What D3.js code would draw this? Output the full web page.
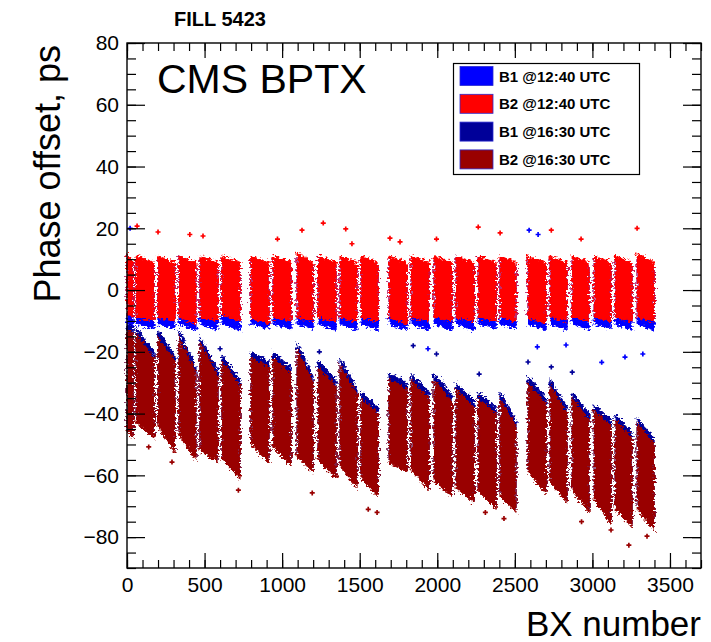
<!DOCTYPE html>
<html>
<head>
<meta charset="utf-8">
<script src="https://cdn.jsdelivr.net/npm/d3@7"></script>
<style>
  body { margin: 0; background: #fff; }
  text { font-family: "Liberation Sans", Arial, Helvetica, sans-serif; }
</style>
</head>
<body>
<div id="chart"></div>
<script>
// bunch trains (BX range of each train)
var trainStart = [0, 58, 199, 335, 470, 612, 799, 941, 1096, 1231, 1373, 1508,
  1689, 1831, 1979, 2121, 2263, 2404, 2585, 2727, 2869, 3011, 3146, 3288];
var trainEnd = [40, 175, 310, 445, 587, 729, 916, 1058, 1200, 1348, 1483, 1619,
  1806, 1948, 2096, 2238, 2380, 2508, 2702, 2837, 2979, 3121, 3256, 3398];

// B1 @12:40 - envelope of the points (ps)
var b1aTopStart = [11, 10, 10, 11, 10, 10, 10, 10, 11, 11, 10, 10, 10, 10, 10, 11, 11, 10, 10, 10, 10, 10, 10, 10];
var b1aTopEnd = [9, 8, 8, 8, 8, 8, 8, 8, 8, 8, 8, 8, 8, 8, 8, 8, 8, 8, 8, 8, 8, 8, 8, 8];
var b1aLowStart = [-12, -11, -11, -11, -11, -11, -11, -11, -11, -11, -11, -11, -11, -11, -11, -11, -11, -11, -11, -11, -11, -11, -11, -11];
var b1aLowEnd = [-13, -12.5, -12.5, -13, -13, -13, -12.5, -12.5, -12.5, -13, -13, -13, -13, -13, -13, -13, -12.5, -12.5, -13, -13, -13, -12.5, -13, -13];

// B2 @12:40
var b2aTopStart = [12, 11, 11, 11, 11, 11, 11, 11, 12, 11, 11, 11, 11, 11, 11, 11, 11, 11, 11, 11, 11, 11, 11, 12];
var b2aTopEnd = [9, 9, 9, 9, 9, 9, 9, 9, 9, 9, 9, 9, 9, 9, 9, 9, 9, 9, 9, 9, 9, 9, 9, 9];
var b2aLowStart = [-8, -9, -9, -9, -9, -8, -9, -9, -9, -9, -9, -9, -9, -9, -9, -9, -9, -9, -9, -9, -9, -9, -9, -9];
var b2aLowEnd = [-9, -10, -10, -11, -10, -10, -11, -10, -10, -10, -10, -10, -11, -10, -10, -10, -10, -10, -11, -10, -10, -10, -10, -10];

// B1 @16:30
var b1bTopStart = [-11, -12, -13, -13, -15, -21, -20, -20, -17, -23, -22, -33, -27, -27, -27, -30, -33, -33, -28, -29, -33, -37, -40, -41];
var b1bTopEnd = [-12, -20, -21, -25, -26, -29, -23, -25, -28, -29, -32, -38, -30, -33, -34, -36, -38, -42, -35, -38, -40, -42, -46, -48];
var b1bLowStart = [-45, -42, -43, -46, -51, -54, -49, -50, -53, -54, -56, -60, -55, -57, -61, -63, -64, -66, -58, -61, -64, -67, -70, -70];
var b1bLowEnd = [-47, -47, -52, -54, -55, -60, -55, -56, -58, -60, -63, -66, -58, -64, -66, -68, -70, -71, -65, -68, -71, -75, -76, -77];

// B2 @16:30
var b2bTopStart = [-13, -14, -15, -15, -17, -23, -22, -22, -19, -25, -24, -35, -29, -29, -29, -32, -35, -35, -30, -31, -35, -39, -42, -43];
var b2bTopEnd = [-14, -22, -23, -27, -28, -31, -25, -27, -30, -31, -34, -40, -32, -35, -36, -38, -40, -44, -37, -40, -42, -44, -48, -50];
var b2bLowStart = [-46, -43, -44, -47, -52, -55, -50, -51, -54, -55, -57, -61, -56, -58, -62, -64, -65, -67, -59, -62, -65, -68, -71, -71];
var b2bLowEnd = [-48, -48, -53, -55, -56, -61, -56, -57, -59, -61, -64, -67, -59, -65, -67, -69, -71, -72, -66, -69, -72, -76, -77, -78];

// single bunches lying away from their train
var b1aOutBx = [20, 2592, 2650, 1940, 2645, 2830, 3060, 3210, 3325];
var b1aOutPs = [20, 19.4, 18, -19, -18.4, -17.8, -23.4, -21.7, -20.7];
var b2aOutBx = [65, 200, 405, 490, 970, 1128, 1265, 1410, 1450, 1695, 1760, 1995, 2264, 2405, 2735, 2927, 3288];
var b2aOutPs = [20.7, 18.8, 18, 17.5, 16.5, 19.4, 21.7, 19.8, 15, 16.8, 15.6, 16.5, 20.4, 18.5, 19.4, 16.5, 20];
var b1bOutBx = [1845, 1995, 2585, 2735, 2870, 2270, 600, 1240];
var b1bOutPs = [-18, -20.7, -23.3, -24.9, -26.6, -27.2, -19, -20];
var b2bOutBx = [140, 290, 718, 1194, 1555, 1612, 2310, 2430, 2930, 3120, 3235, 3352];
var b2bOutPs = [-50.8, -55.7, -64.8, -65.7, -71, -72, -72, -74, -75, -77.7, -82.6, -79.7];

var seriesNames = ["B1 @12:40 UTC", "B2 @12:40 UTC", "B1 @16:30 UTC", "B2 @16:30 UTC"];
var seriesColors = ["#0000ff", "#ff0000", "#000099", "#990000"];

var xTickLabels = [0, 500, 1000, 1500, 2000, 2500, 3000, 3500];
var yTickLabels = [-80, -60, -40, -20, 0, 20, 40, 60, 80];

var series = [
  [b1aTopStart, b1aTopEnd, b1aLowStart, b1aLowEnd],
  [b2aTopStart, b2aTopEnd, b2aLowStart, b2aLowEnd],
  [b1bTopStart, b1bTopEnd, b1bLowStart, b1bLowEnd],
  [b2bTopStart, b2bTopEnd, b2bLowStart, b2bLowEnd]
];
var outliers = [
  [b1aOutBx, b1aOutPs],
  [b2aOutBx, b2aOutPs],
  [b1bOutBx, b1bOutPs],
  [b2bOutBx, b2bOutPs]
];

var width = 711;
var height = 642;
var frame = {left: 127, right: 701, top: 43, bottom: 568};

var svg = d3.select("#chart").append("svg")
  .attr("width", width)
  .attr("height", height);

// rough edges so the envelopes read like dense point clouds
var defs = svg.append("defs");
var filt = defs.append("filter")
  .attr("id", "rough")
  .attr("x", "-20%").attr("y", "-20%")
  .attr("width", "140%").attr("height", "140%");
filt.append("feTurbulence")
  .attr("type", "fractalNoise")
  .attr("baseFrequency", "0.35 0.5")
  .attr("numOctaves", 2)
  .attr("seed", 3)
  .attr("result", "noise");
filt.append("feDisplacementMap")
  .attr("in", "SourceGraphic")
  .attr("in2", "noise")
  .attr("scale", 8)
  .attr("xChannelSelector", "R")
  .attr("yChannelSelector", "G");

var x = d3.scaleLinear().domain([0, 3700]).range([frame.left, frame.right]);
var y = d3.scaleLinear().domain([-90, 80]).range([frame.bottom, frame.top]);

var plot = svg.append("g").attr("class", "plot");

var line = d3.line()
  .x(function(p) { return x(p[0]); })
  .y(function(p) { return y(p[1]); });

var cross = d3.symbol().type(d3.symbolCross).size(14);

series.forEach(function(s, si) {
  var g = plot.append("g")
    .attr("filter", "url(#rough)");
  g.selectAll("path")
    .data(trainStart)
    .enter().append("path")
      .attr("d", function(bx, i) {
        var pts = [
          [trainStart[i], s[0][i]],
          [trainEnd[i], s[1][i]],
          [trainEnd[i], s[3][i]],
          [trainStart[i], s[2][i]]
        ];
        return line(pts) + "Z";
      })
      .attr("fill", seriesColors[si])
      .attr("stroke", seriesColors[si])
      .attr("stroke-width", 1);

  var o = outliers[si];
  plot.append("g").selectAll("path")
    .data(o[0])
    .enter().append("path")
      .attr("d", cross)
      .attr("transform", function(bx, i) { return "translate(" + x(bx) + "," + y(o[1][i]) + ")"; })
      .attr("fill", seriesColors[si]);
});

// axes
function tickAxis(axis, values, size, labels) {
  return axis.tickValues(values)
    .tickSizeInner(-size)
    .tickSizeOuter(0)
    .tickFormat(labels ? d3.format("d") : "");
}

var xMinor = d3.range(0, 3701, 100);
var yMinor = d3.range(-90, 81, 5);

function drawAxis(g) {
  g.select(".domain").remove();
  g.selectAll("line").attr("stroke", "#000").attr("stroke-width", 1.2);
  g.selectAll("text").attr("fill", "#000").style("font-size", "21px")
    .style("font-family", "'Liberation Sans', Arial, sans-serif");
}

svg.append("g").attr("transform", "translate(0," + frame.bottom + ")")
  .call(tickAxis(d3.axisBottom(x), xMinor, 8, false)).call(drawAxis);
svg.append("g").attr("transform", "translate(0," + frame.bottom + ")")
  .call(tickAxis(d3.axisBottom(x), xTickLabels, 15, true).tickPadding(9)).call(drawAxis);
svg.append("g").attr("transform", "translate(0," + frame.top + ")")
  .call(tickAxis(d3.axisTop(x), xMinor, 8, false)).call(drawAxis);
svg.append("g").attr("transform", "translate(0," + frame.top + ")")
  .call(tickAxis(d3.axisTop(x), xTickLabels, 15, false)).call(drawAxis);

svg.append("g").attr("transform", "translate(" + frame.left + ",0)")
  .call(tickAxis(d3.axisLeft(y), yMinor, 9, false)).call(drawAxis);
svg.append("g").attr("transform", "translate(" + frame.left + ",0)")
  .call(tickAxis(d3.axisLeft(y), yTickLabels, 18, true).tickPadding(8)).call(drawAxis);
svg.append("g").attr("transform", "translate(" + frame.right + ",0)")
  .call(tickAxis(d3.axisRight(y), yMinor, 9, false)).call(drawAxis);
svg.append("g").attr("transform", "translate(" + frame.right + ",0)")
  .call(tickAxis(d3.axisRight(y), yTickLabels, 18, false)).call(drawAxis);

svg.append("rect")
  .attr("x", frame.left).attr("y", frame.top)
  .attr("width", frame.right - frame.left)
  .attr("height", frame.bottom - frame.top)
  .attr("fill", "none")
  .attr("stroke", "#000")
  .attr("stroke-width", 1.4);

// titles
svg.append("text")
  .attr("x", 174).attr("y", 26)
  .style("font-size", "20px").style("font-weight", "bold")
  .text("FILL 5423");

svg.append("text")
  .attr("x", 157).attr("y", 93)
  .style("font-size", "41px")
  .text("CMS BPTX");

svg.append("text")
  .attr("x", frame.right).attr("y", 636)
  .attr("text-anchor", "end")
  .style("font-size", "35px")
  .text("BX number");

svg.append("text")
  .attr("transform", "translate(60," + (frame.top + 2) + ") rotate(-90)")
  .attr("text-anchor", "end")
  .style("font-size", "36px")
  .text("Phase offset, ps");

// legend
var legend = svg.append("g").attr("class", "legend");
legend.append("rect")
  .attr("x", 453.5).attr("y", 63.5)
  .attr("width", 186).attr("height", 111)
  .attr("fill", "#fff")
  .attr("stroke", "#000")
  .attr("stroke-width", 1.2);

var entries = legend.selectAll(".entry")
  .data(seriesNames)
  .enter().append("g")
    .attr("class", "entry")
    .attr("transform", function(d, i) { return "translate(0," + (76 + i * 27.8) + ")"; });

entries.append("rect")
  .attr("x", 460).attr("y", -9.5)
  .attr("width", 33).attr("height", 19)
  .attr("fill", function(d, i) { return seriesColors[i]; })
  .attr("stroke", "#2a2ad0")
  .attr("stroke-width", 0.8);

entries.append("text")
  .attr("x", 499).attr("y", 5.5)
  .style("font-size", "15px").style("font-weight", "bold")
  .text(function(d) { return d; });
</script>
</body>
</html>
